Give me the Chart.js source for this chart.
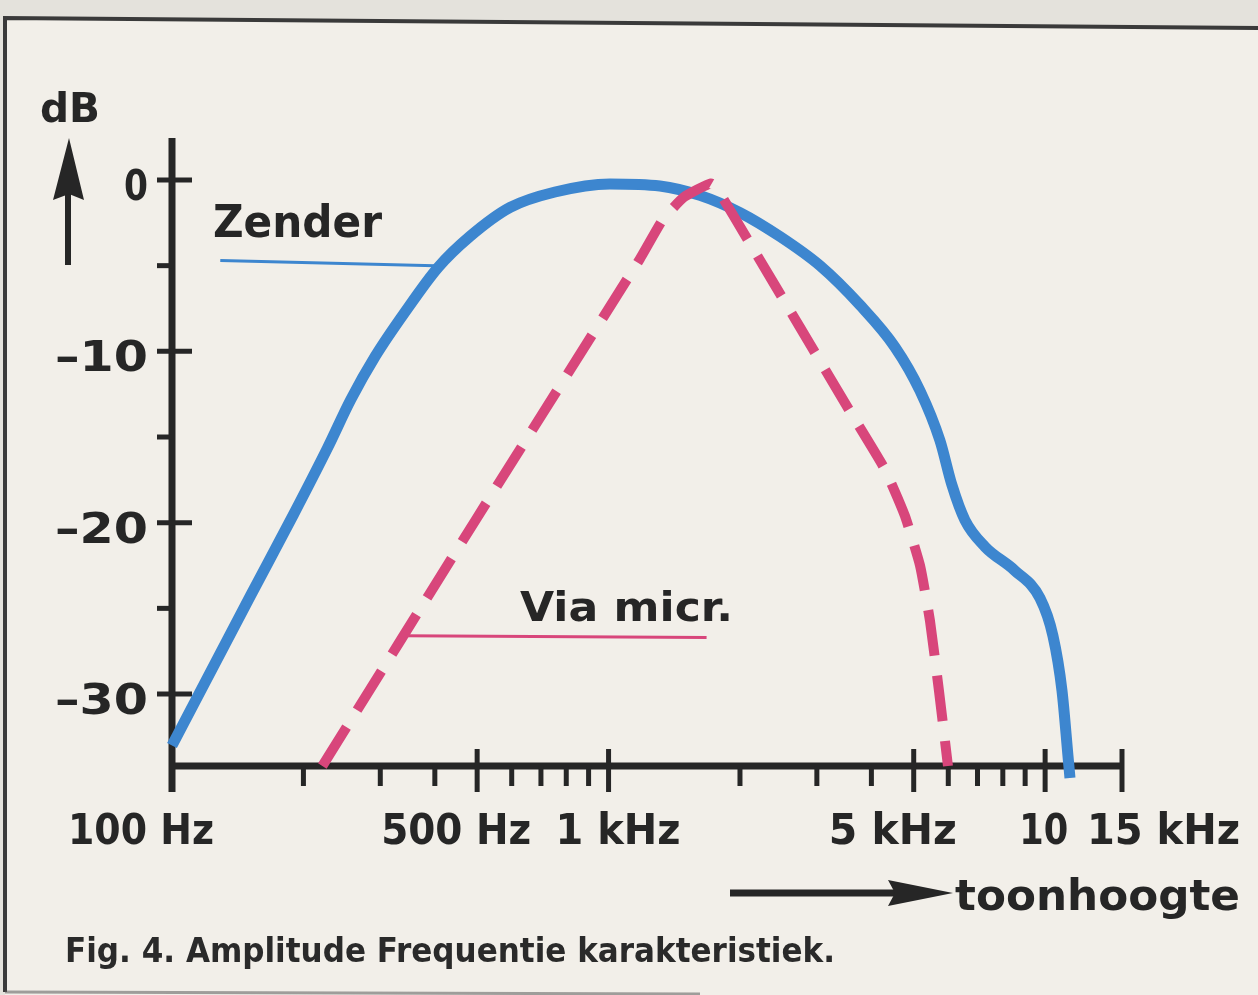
<!DOCTYPE html>
<html>
<head>
<meta charset="utf-8">
<script src="https://cdn.jsdelivr.net/npm/chart.js@4"></script>
<style>
  html, body { margin: 0; padding: 0; background: #f2efe9; }
  canvas { display: block; }
</style>
</head>
<body>
<canvas id="freqChart" width="1258" height="995"></canvas>
<script>
// Zender (transmitter) response: Hz / dB
const zenderFreq = [100, 151, 190, 227, 257, 292, 342, 407, 481, 595, 754, 1007, 1311, 1619, 2000, 2470, 3050, 3766, 4529, 5169, 5741, 6116, 6551, 7280, 8527, 9730, 10420, 10930, 11280, 11400];
const zenderDb = [-33.0, -24.3, -19.5, -15.65, -12.8, -10.3, -7.7, -5.1, -3.3, -1.6, -0.7, -0.23, -0.35, -0.9, -1.9, -3.3, -5.0, -7.3, -9.75, -12.3, -15.2, -17.8, -19.85, -21.4, -22.8, -24.4, -26.6, -29.8, -33.6, -34.9];

// Via microphone response (dashed)
const micFreq = [221, 500, 1180, 1332, 1489, 1716, 1781, 2108, 2745, 3572, 4297, 4773, 5169, 5446, 5712, 5990];
const micDb = [-34.2, -19.7, -4.6, -2.3, -1.0, -0.2, -0.6, -3.7, -8.6, -13.5, -16.9, -19.6, -22.5, -25.7, -29.8, -34.2];

// axis ticks and labels
const xMajorTicks = [500, 1000, 5000, 10000, 15000];
const xMinorTicks = [200, 300, 400, 600, 700, 800, 900, 2000, 3000, 4000, 6000, 7000, 8000, 9000];
const xLabelValues = [100, 500, 1000, 5000, 10000, 15000];
const xTickLabels = ['100 Hz', '500 Hz', '1 kHz', '5 kHz', '10', '15 kHz'];
const yMajorTicks = [0, -10, -20, -30];
const yMinorTicks = [-5, -15, -25];
const yTickLabels = ['0', '–10', '–20', '–30'];

// callout lines from the series names to the curves: [fromHz, fromDb, toHz, toDb]
const zenderCallout = [129, -4.7, 400, -5.0];
const micCallout = [340, -26.6, 1677, -26.7];

const INK = '#262626';
const ZENDER_BLUE = '#3d86cf';
const MIC_PINK = '#d8467b';
const FONT = '"DejaVu Sans", "Liberation Sans", sans-serif';

const toPoints = (xs, ys) => xs.map((x, i) => ({ x: x, y: ys[i] }));

// draw bold text squeezed/stretched to the width it has in the scan
function drawFitted(ctx, text, left, baseline, width, size) {
  ctx.font = `bold ${size}px ${FONT}`;
  const w = ctx.measureText(text).width;
  ctx.save();
  ctx.translate(left, baseline);
  ctx.scale(width / w, 1);
  ctx.textAlign = 'left';
  ctx.textBaseline = 'alphabetic';
  ctx.fillText(text, 0, 0);
  ctx.restore();
}

function line(ctx, x1, y1, x2, y2) {
  ctx.beginPath();
  ctx.moveTo(x1, y1);
  ctx.lineTo(x2, y2);
  ctx.stroke();
}

const paperPlugin = {
  id: 'paper',
  beforeDraw(chart) {
    const ctx = chart.ctx;
    ctx.save();
    ctx.fillStyle = '#f2efe9';
    ctx.fillRect(0, 0, chart.width, chart.height);
    // grey page outside the frame
    ctx.fillStyle = '#e4e2dc';
    ctx.beginPath();
    ctx.moveTo(0, 0); ctx.lineTo(chart.width, 0); ctx.lineTo(chart.width, 28); ctx.lineTo(5, 18); ctx.lineTo(5, chart.height); ctx.lineTo(0, chart.height);
    ctx.fill();
    ctx.strokeStyle = '#3a3a3a';
    ctx.lineWidth = 4;
    ctx.beginPath();
    ctx.moveTo(5, 992); ctx.lineTo(5, 18); ctx.lineTo(chart.width, 28);
    ctx.stroke();
    ctx.strokeStyle = 'rgba(90,90,90,0.55)';
    ctx.lineWidth = 3;
    line(ctx, 5, 992, 700, 994);
    ctx.restore();
  }
};

const axesPlugin = {
  id: 'axes',
  beforeDatasetsDraw(chart) {
    const ctx = chart.ctx;
    const xs = chart.scales.x, ys = chart.scales.y;
    const x0 = xs.getPixelForValue(xs.min), x1 = xs.getPixelForValue(xs.max);
    const yBase = ys.getPixelForValue(ys.min), yTop = ys.getPixelForValue(ys.max);
    ctx.save();
    ctx.strokeStyle = INK;
    ctx.fillStyle = INK;
    ctx.lineCap = 'butt';
    ctx.lineWidth = 7;
    line(ctx, x0, yTop, x0, yBase + 26);
    line(ctx, x0 - 3, yBase, x1 + 2, yBase);

    ctx.lineWidth = 5;
    yMajorTicks.forEach(v => { const p = ys.getPixelForValue(v); line(ctx, x0 - 15, p, x0 + 20, p); });
    yMinorTicks.forEach(v => { const p = ys.getPixelForValue(v); line(ctx, x0 - 15, p, x0, p); });
    xMajorTicks.forEach(v => { const p = xs.getPixelForValue(v); line(ctx, p, yBase - 17, p, yBase + 26); });
    xMinorTicks.forEach(v => { const p = xs.getPixelForValue(v); line(ctx, p, yBase, p, yBase + 20); });

    // tick labels: [left offset from tick, width]
    const xLabelBox = [[-104, 146], [-96, 150], [-53, 125], [-85, 128], [-26, 49], [-35, 153]];
    xTickLabels.forEach((t, i) => {
      const p = xs.getPixelForValue(xLabelValues[i]);
      drawFitted(ctx, t, p + xLabelBox[i][0], yBase + 78, xLabelBox[i][1], 42);
    });
    const yLabelWidth = [24, 93, 93, 93];
    yTickLabels.forEach((t, i) => {
      const p = ys.getPixelForValue(yMajorTicks[i]);
      drawFitted(ctx, t, x0 - 24 - yLabelWidth[i], p + 20, yLabelWidth[i], 43);
    });
    ctx.restore();
  }
};

const labelsPlugin = {
  id: 'labels',
  afterDatasetsDraw(chart) {
    const ctx = chart.ctx;
    const xs = chart.scales.x, ys = chart.scales.y;
    ctx.save();
    ctx.fillStyle = INK;
    ctx.strokeStyle = INK;

    // dB with upward arrow
    drawFitted(ctx, 'dB', 40, 122, 60, 40);
    ctx.lineWidth = 6;
    line(ctx, 68, 265, 68, 190);
    ctx.beginPath();
    ctx.moveTo(69, 138); ctx.lineTo(84, 200); ctx.lineTo(69, 194); ctx.lineTo(53, 200);
    ctx.closePath();
    ctx.fill();

    // frequency arrow
    ctx.lineWidth = 7;
    line(ctx, 730, 893, 895, 893);
    ctx.beginPath();
    ctx.moveTo(953, 893); ctx.lineTo(888, 880); ctx.lineTo(895, 893); ctx.lineTo(888, 906);
    ctx.closePath();
    ctx.fill();
    drawFitted(ctx, 'toonhoogte', 955, 910, 285, 42);

    // series names with callouts
    drawFitted(ctx, 'Zender', 213, 237, 169, 44);
    drawFitted(ctx, 'Via micr.', 520, 621, 213, 40);
    ctx.lineWidth = 3;
    ctx.strokeStyle = ZENDER_BLUE;
    line(ctx, xs.getPixelForValue(zenderCallout[0]), ys.getPixelForValue(zenderCallout[1]),
      xs.getPixelForValue(zenderCallout[2]), ys.getPixelForValue(zenderCallout[3]));
    ctx.strokeStyle = MIC_PINK;
    line(ctx, xs.getPixelForValue(micCallout[0]), ys.getPixelForValue(micCallout[1]),
      xs.getPixelForValue(micCallout[2]), ys.getPixelForValue(micCallout[3]));

    ctx.fillStyle = '#2a2a2a';
    drawFitted(ctx, 'Fig. 4. Amplitude Frequentie karakteristiek.', 65, 962, 770, 34);
    ctx.restore();
  }
};

new Chart(document.getElementById('freqChart'), {
  type: 'line',
  data: {
    datasets: [
      {
        label: 'Via micr.',
        data: toPoints(micFreq, micDb),
        borderColor: MIC_PINK,
        borderWidth: 10,
        borderDash: [46, 20],
        tension: 0.15,
        pointRadius: 0,
        clip: false,
      },
      {
        label: 'Zender',
        data: toPoints(zenderFreq, zenderDb),
        borderColor: ZENDER_BLUE,
        borderWidth: 11,
        borderJoinStyle: 'round',
        cubicInterpolationMode: 'monotone',
        pointRadius: 0,
        clip: false,
      },
    ],
  },
  options: {
    responsive: false,
    animation: false,
    devicePixelRatio: 1,
    layout: { padding: { left: 172, right: 136, top: 138, bottom: 229 } },
    scales: {
      x: { type: 'logarithmic', min: 100, max: 15000, display: false },
      y: { min: -34.2, max: 2.45, display: false },
    },
    plugins: {
      legend: { display: false },
      tooltip: { enabled: false },
    },
  },
  plugins: [paperPlugin, axesPlugin, labelsPlugin],
});
</script>
</body>
</html>
